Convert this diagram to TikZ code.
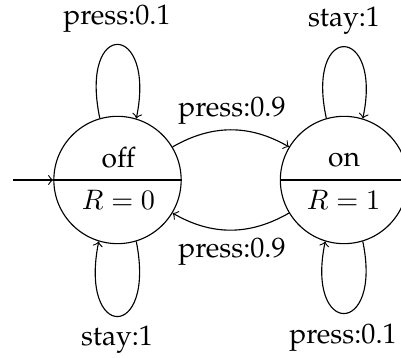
\documentclass[tikz,border=0pt]{standalone}
\usepackage[T1]{fontenc}
\usepackage{palatino}
\begin{document}
\begin{tikzpicture}[x=0.355pt,y=-0.355pt,
  state/.style={circle,draw,minimum size=45.2pt,inner sep=0pt},
  lbl/.style={inner sep=0pt,anchor=base}]
\clip (0,0) rectangle (401,358);
\node[state] (off) at (117.5,180) {};
\node[state] (on) at (344,180) {};
\node[lbl] (offname) at (118.5,168) {off};
\node[lbl] (offR) at (118.5,210) {$R=0$};
\node[lbl] (onname) at (344,167) {on};
\node[lbl] (onR) at (343.5,210) {$R=1$};
\draw (off.west) -- (off.east);
\draw (on.west) -- (on.east);
\coordinate (init) at (13,180);
\draw[->] (init) -- (off.west);
% loops
\draw[->] (off.106) .. controls +(-21,-100) and +(20,-97) .. (off.73);
\draw[->] (off.-73) .. controls +(20,100) and +(-20,100) .. (off.-107);
\draw[->] (on.106) .. controls +(-21,-97) and +(20,-94) .. (on.73);
\draw[->] (on.-73) .. controls +(20,96) and +(-20,96) .. (on.-107);
% edges
\draw[->] (off.31) to[bend left=30] (on.149);
\draw[->] (on.-149) to[bend left=30] (off.-31);
% labels
\node[lbl] (l1) at (117,25) {press:0.1};
\node[lbl] (l2) at (344,27) {stay:1};
\node[lbl] (l3) at (117,346) {stay:1};
\node[lbl] (l4) at (343,344) {press:0.1};
\node[lbl] (l5) at (232,117) {press:0.9};
\node[lbl] (l6) at (232,258) {press:0.9};
\end{tikzpicture}
\end{document}
